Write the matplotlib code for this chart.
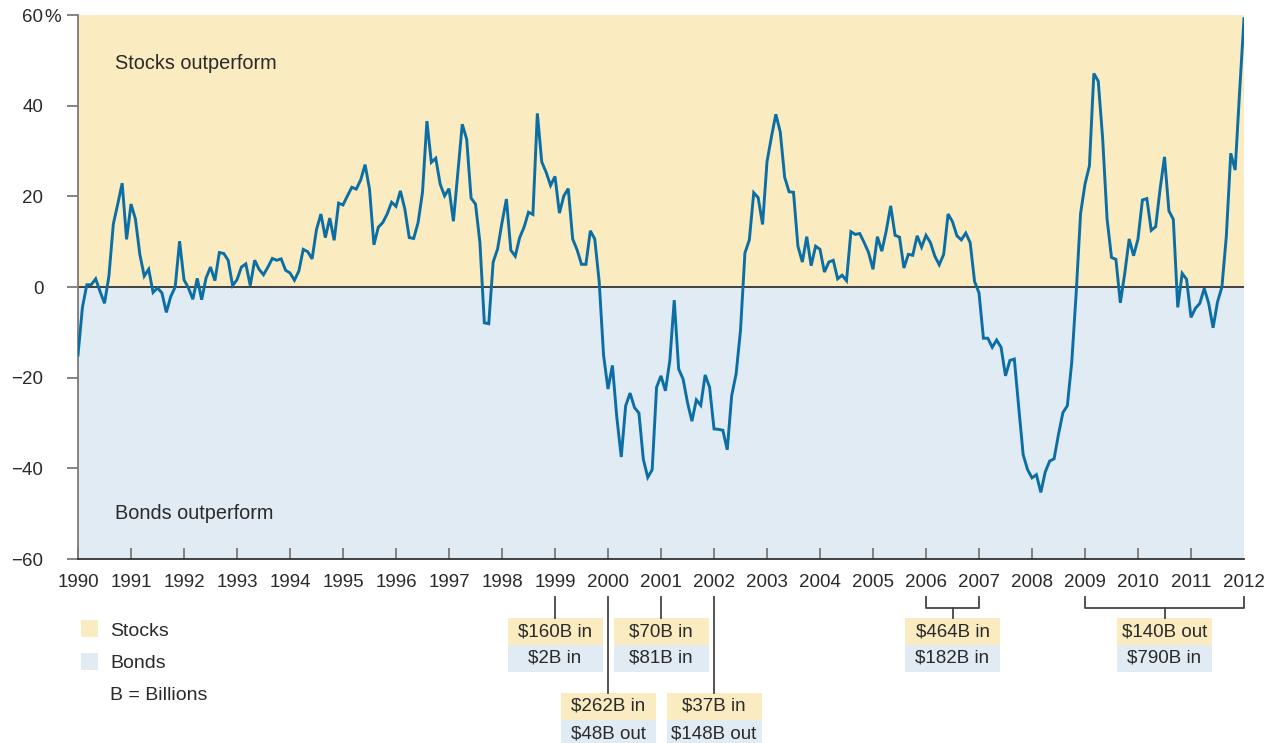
import numpy as np
import matplotlib
matplotlib.use("Agg")
import matplotlib.pyplot as plt
from matplotlib.patches import Rectangle
from matplotlib.lines import Line2D
import matplotlib.transforms as mtransforms

plt.rcParams['font.family'] = ['Liberation Sans', 'DejaVu Sans']

# ---------------- data ----------------
start_year = 1990
# monthly relative performance (stocks minus bonds, %), Jan 1990 .. Jan 2012
relative_return = [
    -15.0, -4.5, 0.5, 0.5, 1.8, -1.0, -3.6, 2.4, 13.9, 18.3, 22.9, 10.5,      # 1990
    18.3, 15.0, 7.2, 2.4, 3.9, -1.2, -0.2, -1.3, -5.6, -2.1, 0.0, 10.1,       # 1991
    1.6, -0.2, -2.7, 1.9, -2.8, 2.0, 4.4, 1.4, 7.6, 7.4, 5.9, 0.3,            # 1992
    1.6, 4.4, 5.1, 0.3, 5.9, 3.9, 2.7, 4.4, 6.3, 5.9, 6.2, 3.7,               # 1993
    3.1, 1.5, 3.5, 8.3, 7.8, 6.2, 12.7, 16.1, 10.9, 15.2, 10.3, 18.5,         # 1994
    18.1, 20.1, 22.0, 21.6, 23.6, 27.0, 21.6, 9.3, 13.2, 14.2, 16.1, 18.7,    # 1995
    17.8, 21.2, 17.2, 10.9, 10.7, 14.2, 20.9, 36.6, 27.5, 28.4, 22.7, 20.1,   # 1996
    21.7, 14.5, 25.3, 35.9, 32.6, 19.6, 18.3, 9.8, -7.9, -8.1, 5.5, 8.4,      # 1997
    14.2, 19.4, 8.1, 6.8, 10.9, 13.2, 16.5, 16.0, 38.3, 27.6, 25.3, 22.4,     # 1998
    24.4, 16.3, 20.1, 21.7, 10.6, 8.2, 5.0, 5.0, 12.4, 10.6, 1.2, -15.1,      # 1999
    -22.5, -17.3, -28.8, -37.5, -26.2, -23.4, -26.6, -27.8, -38.0, -42.0, -40.3, -22.1,  # 2000
    -19.6, -22.9, -16.2, -2.9, -18.1, -20.3, -25.5, -29.6, -24.9, -26.1, -19.4, -22.1,   # 2001
    -31.3, -31.4, -31.6, -35.9, -24.0, -19.2, -9.6, 7.5, 10.4, 20.8, 19.7, 13.8,         # 2002
    27.6, 33.1, 38.1, 34.2, 24.2, 21.0, 20.9, 9.0, 5.5, 11.1, 4.7, 9.0,       # 2003
    8.3, 3.3, 5.5, 5.9, 1.8, 2.6, 1.4, 12.2, 11.6, 11.8, 9.8, 7.6,            # 2004
    3.9, 11.1, 7.9, 12.4, 17.9, 11.4, 11.0, 4.2, 7.2, 7.0, 11.3, 8.8,         # 2005
    11.4, 9.8, 6.8, 4.9, 7.2, 16.1, 14.4, 11.3, 10.4, 11.9, 9.8, 1.2,         # 2006
    -1.3, -11.3, -11.3, -13.3, -11.7, -13.3, -19.6, -16.2, -15.9, -26.6, -37.0, -40.3,   # 2007
    -42.1, -41.4, -45.3, -40.8, -38.4, -37.9, -32.5, -27.7, -26.2, -16.6, -1.4, 16.2,    # 2008
    22.7, 26.7, 47.1, 45.4, 32.7, 15.0, 6.5, 6.1, -3.5, 3.0, 10.6, 6.9,       # 2009
    10.6, 19.2, 19.5, 12.5, 13.3, 21.6, 28.7, 16.8, 14.9, -4.5, 3.0, 1.7,     # 2010
    -6.7, -4.7, -3.6, -0.3, -3.6, -9.0, -3.3, 0.0, 11.2, 29.5, 25.8, 43.0,    # 2011
    59.2,                                                                       # 2012
]
year_ticks = list(range(1990, 2013))
y_ticks = [-60, -40, -20, 0, 20, 40, 60]
y_tick_labels = ["\u221260", "\u221240", "\u221220", "0", "20", "40", "60"]

# fund flow annotations (single years)
flow_years = [1999, 2001, 2000, 2002]
flow_stocks = ["$160B in", "$70B in", "$262B in", "$37B in"]
flow_bonds = ["$2B in", "$81B in", "$48B out", "$148B out"]
flow_row = [0, 0, 1, 1]
# fund flow annotations (year ranges)
range_spans = [(2006, 2007), (2009, 2012)]
range_stocks = ["$464B in", "$140B out"]
range_bonds = ["$182B in", "$790B in"]

# ---------------- style ----------------
W, H = 1275, 743
YELLOW = "#faebc1"
BLUE = "#e1ebf4"
LINE = "#0b6fa5"
TXT = "#2a2a2a"
GRAY = "#7a7a7a"
DARK = "#333333"
FS = 13.5
FS_BIG = 14.3

fig = plt.figure(figsize=(W / 100, H / 100), dpi=100)
ax_left, ax_right, ax_top, ax_bottom = 78, 1244, 15, 559
ax = fig.add_axes([ax_left / W, 1 - ax_bottom / H, (ax_right - ax_left) / W, (ax_bottom - ax_top) / H])

ax.set_xlim(1990, 2012)
ax.set_ylim(-60, 60)
ax.axhspan(0, 60, color=YELLOW, lw=0, zorder=0)
ax.axhspan(-60, 0, color=BLUE, lw=0, zorder=0)

x = start_year + np.arange(len(relative_return)) / 12.0
ax.plot(x, relative_return, color=LINE, lw=2.1, zorder=3, solid_joinstyle='miter')

ax.axhline(0, color=DARK, lw=1.3, zorder=2)

for s in ["top", "right"]:
    ax.spines[s].set_visible(False)
ax.spines["left"].set_color(GRAY)
ax.spines["left"].set_linewidth(1.3)
ax.spines["bottom"].set_color(DARK)
ax.spines["bottom"].set_linewidth(1.3)

ax.set_yticks(y_ticks)
ax.set_yticklabels(y_tick_labels)
ax.tick_params(axis="y", direction="out", length=8, width=1.3, color=GRAY, pad=17,
               labelsize=FS, labelcolor=TXT)
ax.set_xticks(year_ticks)
ax.set_xticklabels([str(y) for y in year_ticks])
ax.tick_params(axis="x", direction="in", length=8, width=1.3, color=GRAY, pad=11,
               labelsize=FS, labelcolor=TXT)
ax.yaxis.get_major_ticks()[3].tick1line.set_color(DARK)
ax.yaxis.get_major_ticks()[0].tick1line.set_color(DARK)
ax.xaxis.get_major_ticks()[-1].tick1line.set_visible(False)

# percent sign after 60
ax.annotate("%", xy=(0, 60), xycoords=("axes fraction", "data"), xytext=(-24.5, 0),
            textcoords="offset points", ha="left", va="center_baseline", fontsize=FS, color=TXT)

ax.text(1990.70, 49.4, "Stocks outperform", fontsize=FS_BIG, color=TXT, va="center", ha="left")
ax.text(1990.70, -50, "Bonds outperform", fontsize=FS_BIG, color=TXT, va="center", ha="left")

# ---------------- annotations below axis ----------------
trans = mtransforms.blended_transform_factory(ax.transData, ax.transAxes)
ax_h = ax_bottom - ax_top


def yfrac(py):
    return (ax_bottom - py) / ax_h


box_w = 95 / 53.0  # years
row_tops = [618, 693]
half_h = 27


def draw_box(xc, top_px, t1, t2):
    y1 = yfrac(top_px)
    y2 = yfrac(top_px + half_h)
    y3 = yfrac(top_px + 2 * half_h)
    ax.add_patch(Rectangle((xc - box_w / 2, y2), box_w, y1 - y2, transform=trans,
                           facecolor=YELLOW, lw=0, clip_on=False, zorder=1))
    ax.add_patch(Rectangle((xc - box_w / 2, y3), box_w, y2 - y3, transform=trans,
                           facecolor=BLUE, lw=0, clip_on=False, zorder=1))
    ax.text(xc, (y1 + y2) / 2, t1, transform=trans, ha="center", va="center",
            fontsize=FS, color=TXT, clip_on=False)
    ax.text(xc, (y2 + y3) / 2, t2, transform=trans, ha="center", va="center",
            fontsize=FS, color=TXT, clip_on=False)


conn_top = yfrac(597)
for yr, st, bd, row in zip(flow_years, flow_stocks, flow_bonds, flow_row):
    top = row_tops[row]
    ax.add_line(Line2D([yr, yr], [conn_top, yfrac(top)], transform=trans, color="#444444",
                       lw=1.3, clip_on=False))
    draw_box(yr, top, st, bd)

br_y = yfrac(608)
for (a, b), st, bd in zip(range_spans, range_stocks, range_bonds):
    xc = (a + b) / 2
    ax.add_line(Line2D([a, a, b, b], [conn_top, br_y, br_y, conn_top], transform=trans,
                       color="#444444", lw=1.3, clip_on=False))
    ax.add_line(Line2D([xc, xc], [br_y, yfrac(618)], transform=trans, color="#444444",
                       lw=1.3, clip_on=False))
    draw_box(xc, 618, st, bd)

# ---------------- legend ----------------
def fx(px):
    return px / W


def fy(py):
    return 1 - py / H


fig.add_artist(Rectangle((fx(81), fy(637)), 17 / W, 17 / H, transform=fig.transFigure,
                         facecolor=YELLOW, lw=0))
fig.add_artist(Rectangle((fx(81), fy(670)), 17 / W, 17 / H, transform=fig.transFigure,
                         facecolor=BLUE, lw=0))
fig.text(fx(110), fy(631), "Stocks", fontsize=14, color=TXT, va="center", ha="left")
fig.text(fx(110), fy(663), "Bonds", fontsize=14, color=TXT, va="center", ha="left")
fig.text(fx(110), fy(695), "B = Billions", fontsize=14, color=TXT, va="center", ha="left")

fig.savefig("out.png", dpi=100)
